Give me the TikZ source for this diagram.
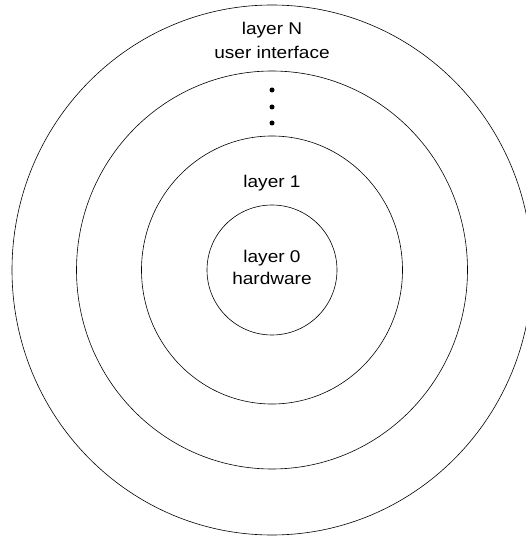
\documentclass[tikz,border=0pt]{standalone}
\usepackage{fontspec}
\setmainfont{Liberation Sans}[FakeStretch=1.12]
\usetikzlibrary{positioning}

\begin{document}
\begin{tikzpicture}[x=1pt, y=1pt, line width=0.6pt,
  lbl/.style={font=\fontsize{17}{20}\selectfont, anchor=base, inner sep=0pt},
  dot/.style={circle, fill=black, inner sep=0pt, minimum size=5pt}]
\useasboundingbox (0,0) rectangle (526,539);
% centre of the rings
\coordinate (c) at (272,269);
\foreach \rx/\ry in {65/65, 130.5/134, 195.5/199, 260/265} {
  \draw (c) ellipse [x radius=\rx, y radius=\ry];
}
\node[lbl] (layerN) at (272,504) {layer N};
\node[lbl] (ui) at (272,480) {user interface};
\node[dot] (d1) at (272,449) {};
\node[dot] (d2) at (272,432) {};
\node[dot] (d3) at (272,416) {};
\node[lbl] (layerone) at (272,351) {layer 1};
\node[lbl] (layerzero) at (272,276) {layer 0};
\node[lbl] (hw) at (272,254) {hardware};
\end{tikzpicture}
\end{document}
